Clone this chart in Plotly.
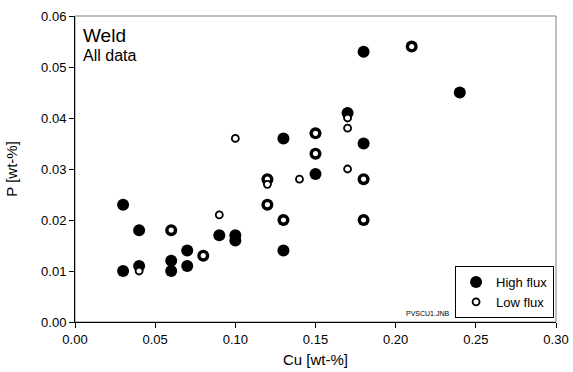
import plotly.graph_objects as go

high_cu = [0.03, 0.03, 0.04, 0.04, 0.06, 0.06, 0.06, 0.07, 0.07, 0.08, 0.09, 0.10, 0.10,
           0.12, 0.12, 0.13, 0.13, 0.13, 0.15, 0.15, 0.15, 0.17, 0.18, 0.18, 0.18, 0.18, 0.21, 0.24]
high_p = [0.023, 0.010, 0.018, 0.011, 0.018, 0.012, 0.010, 0.014, 0.011, 0.013, 0.017, 0.017, 0.016,
          0.028, 0.023, 0.036, 0.020, 0.014, 0.037, 0.033, 0.029, 0.041, 0.053, 0.035, 0.028, 0.020, 0.054, 0.045]

low_cu = [0.04, 0.06, 0.08, 0.09, 0.10, 0.12, 0.12, 0.12, 0.13, 0.14, 0.15, 0.15, 0.17, 0.17, 0.17, 0.18, 0.18, 0.21]
low_p = [0.010, 0.018, 0.013, 0.021, 0.036, 0.028, 0.027, 0.023, 0.020, 0.028, 0.037, 0.033, 0.040, 0.038, 0.030, 0.028, 0.020, 0.054]

x_ticks = [0.00, 0.05, 0.10, 0.15, 0.20, 0.25, 0.30]
y_ticks = [0.00, 0.01, 0.02, 0.03, 0.04, 0.05, 0.06]

FONT = "Liberation Sans, Arial, sans-serif"

fig = go.Figure()
fig.add_trace(go.Scatter(x=high_cu, y=high_p, mode="markers", name="High flux",
                         marker=dict(size=12, color="black", line=dict(width=0))))
fig.add_trace(go.Scatter(x=low_cu, y=low_p, mode="markers", name="Low flux",
                         marker=dict(size=7, color="white", line=dict(width=1.8, color="black"))))

fig.update_layout(
    width=573, height=372,
    margin=dict(l=75, r=17, t=16, b=50),
    paper_bgcolor="white", plot_bgcolor="white",
    font=dict(family=FONT, size=13, color="black"),
    showlegend=True,
    legend=dict(x=0.996, y=0.013, xanchor="right", yanchor="bottom",
                bordercolor="black", borderwidth=1, bgcolor="white",
                font=dict(size=13), itemwidth=30, tracegroupgap=0),
    shapes=[dict(type="rect", xref="paper", yref="paper", x0=0, y0=0, x1=1, y1=1,
                 line=dict(color="#808080", width=1), layer="below")],
    annotations=[
        dict(text="Weld", xref="paper", yref="paper", x=0.012, y=0.935, xanchor="left",
             yanchor="middle", showarrow=False, font=dict(size=19)),
        dict(text="All data", xref="paper", yref="paper", x=0.012, y=0.872, xanchor="left",
             yanchor="middle", showarrow=False, font=dict(size=16)),
        dict(text="PVSCU1.JNB", xref="paper", yref="paper", x=0.733, y=0.029, xanchor="center",
             yanchor="middle", showarrow=False, font=dict(size=7)),
    ],
)
fig.update_xaxes(range=[0, 0.30], tickvals=x_ticks, tickformat=".2f", ticks="outside",
                 ticklen=5, tickcolor="black", showline=True, linecolor="black", linewidth=1,
                 showgrid=False, zeroline=False, automargin=False,
                 title=dict(text="Cu [wt-%]", font=dict(size=15), standoff=8))
fig.update_yaxes(range=[0, 0.06], tickvals=y_ticks, tickformat=".2f", ticks="outside",
                 ticklen=5, tickcolor="black", showline=True, linecolor="black", linewidth=1,
                 showgrid=False, zeroline=False, automargin=False,
                 title=dict(text="P [wt-%]", font=dict(size=15), standoff=19))

fig.write_html("out.html")
